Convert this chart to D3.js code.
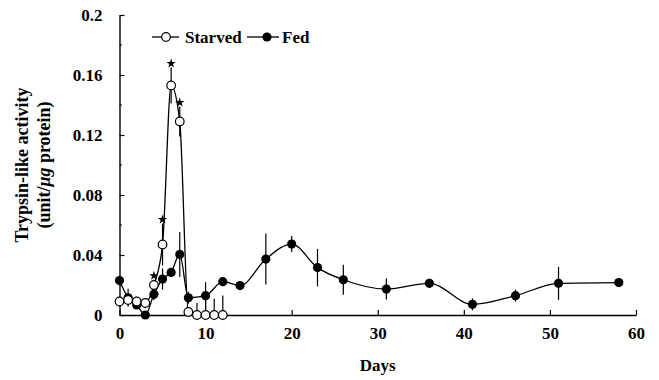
<!DOCTYPE html>
<html>
<head>
<meta charset="utf-8">
<script src="https://cdn.jsdelivr.net/npm/d3@7"></script>
<style>
  body { margin: 0; background: #fff; }
  svg { display: block; }
  svg text { font-family: "Times New Roman", "Liberation Serif", Times, serif !important; font-weight: bold; fill: #000; }
</style>
</head>
<body>
<div id="graf"></div>
<script>
// datos
starvedDays = [0, 1, 2, 3, 4, 5, 6, 7, 8, 9, 10, 11, 12]
starvedVals = [0.009, 0.010, 0.009, 0.008, 0.020, 0.047, 0.153, 0.129, 0.002, 0, 0, 0, 0]
starvedErr  = [0, 0, 0, 0, 0.0035, 0.014, 0.012, 0.010, 0, 0.008, 0.012, 0.011, 0.013]
starvedSig  = [4, 5, 6, 7]

fedDays = [0, 1, 2, 3, 4, 5, 6, 7, 8, 10, 12, 14, 17, 20, 23, 26, 31, 36, 41, 46, 51, 58]
fedVals = [0.023, 0.0115, 0.0067, 0, 0.0138, 0.024, 0.0284, 0.0404, 0.0115, 0.0129, 0.0222, 0.0196,
           0.0373, 0.0473, 0.0316, 0.0235, 0.0173, 0.0211, 0.0071, 0.0129, 0.0211, 0.0216]
fedErr  = [0, 0.006, 0.002, 0, 0.004, 0.007, 0, 0.015, 0.004, 0.009, 0, 0,
           0.017, 0.0053, 0.0125, 0.010, 0.007, 0.003, 0.004, 0.004, 0.011, 0]

xTicks = [0, 10, 20, 30, 40, 50, 60]
yTicks = [0, 0.04, 0.08, 0.12, 0.16, 0.2]
yMinor = [0.02, 0.06, 0.10, 0.14, 0.18]

starved = starvedDays.map((d, i) => ({ dia: d, v: starvedVals[i], e: starvedErr[i] }))
fed = fedDays.map((d, i) => ({ dia: d, v: fedVals[i], e: fedErr[i] }))

ancho = 659
alto = 380
fuente = '"Times New Roman", "Liberation Serif", serif'

svg = d3.select('#graf').append('svg')
  .attr('width', ancho)
  .attr('height', alto)

// escalas
x = d3.scaleLinear().domain([0, 60]).range([119.5, 636])
y = d3.scaleLinear().domain([0, 0.2]).range([315, 15])

// ejes
xAxis = svg.append('g')
  .attr('transform', `translate(0, ${y(0)})`)
  .call(d3.axisBottom(x).tickValues(xTicks).tickSizeInner(-5).tickSizeOuter(0).tickPadding(12))
xAxis.attr('font-family', fuente)
xAxis.select('.domain').attr('stroke-width', 1.4)
xAxis.selectAll('line').attr('stroke-width', 1.2)
xAxis.selectAll('text').style('font-size', '17px')

yAxis = svg.append('g')
  .attr('transform', `translate(${x(0)}, 0)`)
  .call(d3.axisLeft(y).tickValues(yTicks).tickSizeInner(-5).tickSizeOuter(0).tickPadding(17)
    .tickFormat(d => d === 0 ? '0' : String(+d.toFixed(2))))
yAxis.attr('font-family', fuente)
yAxis.select('.domain').attr('stroke-width', 1.4)
yAxis.selectAll('line').attr('stroke-width', 1.2)
yAxis.selectAll('text').style('font-size', '17px')

svg.append('g').selectAll('line')
  .data(yMinor)
  .join('line')
    .attr('x1', x(0)).attr('x2', x(0) + 2.5)
    .attr('y1', d => y(d)).attr('y2', d => y(d))
    .attr('stroke', '#000')

// titulos
svg.append('text')
  .attr('x', x(30)).attr('y', 371)
  .attr('text-anchor', 'middle')
  .style('font-size', '17px')
  .text('Days')

yTitulo = svg.append('text')
  .attr('transform', 'translate(0, 165) rotate(-90)')
  .attr('text-anchor', 'middle')
  .style('font-size', '18px')
yTitulo.append('tspan').attr('x', 0).attr('y', 28).text('Trypsin-like activity')
t2 = yTitulo.append('tspan').attr('x', 0).attr('y', 50)
t2.append('tspan').text('(unit/')
t2.append('tspan').style('font-style', 'italic').text('μg')
t2.append('tspan').text(' protein)')

// lineas
linea = d3.line().x(d => x(d.dia)).y(d => y(d.v)).curve(d3.curveMonotoneX)

svg.append('path').datum(fed)
  .attr('d', linea).attr('fill', 'none').attr('stroke', '#000').attr('stroke-width', 1.3)
svg.append('path').datum(starved)
  .attr('d', linea).attr('fill', 'none').attr('stroke', '#000').attr('stroke-width', 1.3)

// barras de error
function errores(datos) {
  svg.append('g').selectAll('line')
    .data(datos.filter(d => d.e > 0))
    .join('line')
      .attr('x1', d => x(d.dia)).attr('x2', d => x(d.dia))
      .attr('y1', d => y(Math.max(0, d.v - d.e)))
      .attr('y2', d => y(d.v + d.e))
      .attr('stroke', '#000').attr('stroke-width', 1.2)
}
errores(fed)
errores(starved)

// puntos
svg.append('g').selectAll('circle')
  .data(fed)
  .join('circle')
    .attr('cx', d => x(d.dia)).attr('cy', d => y(d.v))
    .attr('r', 4.6).attr('fill', '#000')

svg.append('g').selectAll('circle')
  .data(starved)
  .join('circle')
    .attr('cx', d => x(d.dia)).attr('cy', d => y(d.v))
    .attr('r', 4.3).attr('fill', '#fff').attr('stroke', '#000').attr('stroke-width', 1.2)

// asteriscos de significancia
estrella = d3.symbol().type(d3.symbolStar).size(28)
svg.append('g').selectAll('path')
  .data(starved.filter(d => starvedSig.includes(d.dia)))
  .join('path')
    .attr('d', estrella)
    .attr('transform', d => `translate(${x(d.dia)}, ${y(d.v + d.e) - 4})`)
    .attr('fill', '#000')

// leyenda
leyenda = svg.append('g').attr('transform', 'translate(152, 37)')
leyenda.append('line').attr('x1', 0).attr('x2', 27).attr('stroke', '#000').attr('stroke-width', 1.3)
leyenda.append('circle').attr('cx', 14).attr('r', 4.3).attr('fill', '#fff').attr('stroke', '#000').attr('stroke-width', 1.2)
leyenda.append('text').attr('x', 33).attr('y', 5.5).style('font-size', '17px').text('Starved')
leyenda.append('line').attr('x1', 95).attr('x2', 127).attr('stroke', '#000').attr('stroke-width', 1.3)
leyenda.append('circle').attr('cx', 115).attr('r', 4.6).attr('fill', '#000')
leyenda.append('text').attr('x', 130).attr('y', 5.5).style('font-size', '17px').text('Fed')
</script>
</body>
</html>
